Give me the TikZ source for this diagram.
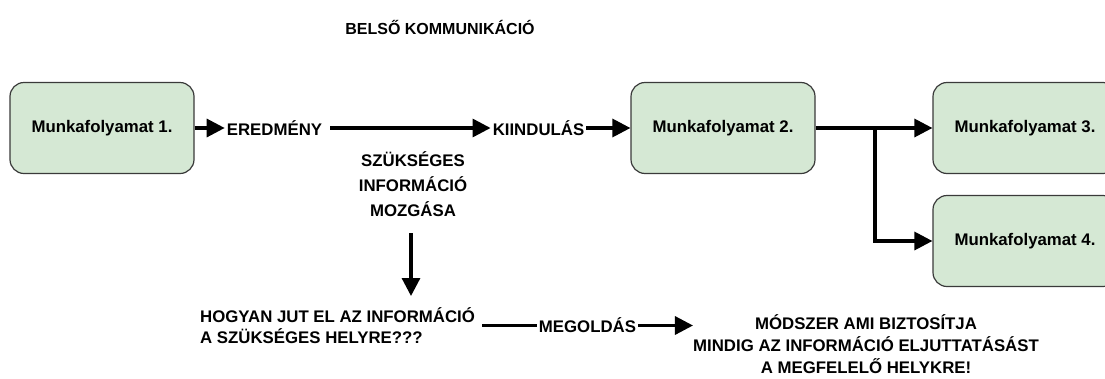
\documentclass[tikz,border=0pt]{standalone}
\usepackage{fontspec}
\setmainfont{Liberation Sans}
\usetikzlibrary{arrows.meta}
\definecolor{boxfill}{HTML}{D5E8D4}
\definecolor{boxline}{HTML}{3A3A3A}
\tikzset{
  procbox/.style={draw=boxline, fill=boxfill, line width=1.2pt, rounded corners=14pt,
    minimum width=184pt, minimum height=91pt, inner sep=0pt,
    font=\fontsize{16.8}{20}\selectfont\bfseries},
  lbl/.style={inner sep=0pt, font=\fontsize{16.8}{20}\selectfont\bfseries},
  flow/.style={line width=3.2pt, -{Triangle[length=18pt,width=18pt]}},
  plain/.style={line width=3.2pt},
}
\begin{document}
\begin{tikzpicture}[x=1pt,y=-1pt]
\useasboundingbox (0,0) rectangle (1105,378);
\begin{scope}
\clip (0,0) rectangle (1105,378);

% title
\node[lbl, font=\fontsize{16}{20}\selectfont\bfseries] (title) at (440,27) {BELSŐ KOMMUNIKÁCIÓ};

% process boxes
\node[procbox] (p1) at (102,128) {Munkafolyamat 1.};
\node[procbox] (p2) at (723,128) {Munkafolyamat 2.};
\node[procbox] (p3) at (1025,128) {Munkafolyamat 3.};
\node[procbox] (p4) at (1025,241) {Munkafolyamat 4.};

% labels along the main flow
\node[lbl, inner xsep=2pt] (ered) at (274.5,128) {EREDMÉNY};
\node[lbl, inner xsep=2pt] (kiind) at (538.5,128) {KIINDULÁS};
\node[lbl, align=center, font=\fontsize{16.8}{25}\selectfont\bfseries] (szuk) at (413,184) {SZÜKSÉGES\\INFORMÁCIÓ\\ MOZGÁSA};

% question and answer
\node[lbl, align=left, anchor=west, font=\fontsize{16.8}{21}\selectfont\bfseries] (hogy) at (200,325.5) {HOGYAN JUT EL AZ INFORMÁCIÓ\\A SZÜKSÉGES HELYRE???};
\node[lbl, inner xsep=2pt] (megold) at (587.5,325.5) {MEGOLDÁS};
\node[lbl, align=center, font=\fontsize{16.8}{22}\selectfont\bfseries] (modsz) at (866,344) {MÓDSZER AMI BIZTOSÍTJA\\MINDIG AZ INFORMÁCIÓ ELJUTTATÁSÁST\\A MEGFELELŐ HELYKRE!};

% connectors
\draw[flow] (p1.east) -- (ered.west);
\draw[flow] ([xshift=6pt]ered.east) -- (kiind.west);
\draw[flow] (kiind.east) -- (p2.west);
\coordinate (split) at (875,128);
\draw[flow] (p2.east) -- (p3.west);
\draw[flow] (split) -- (split |- p4) -- (p4.west);

\coordinate (vtop) at (411,233);
\coordinate (vend) at (411,296);
\draw[flow] (vtop) -- (vend);

\draw[plain] ([xshift=7pt]hogy.east) -- (megold.west);
\draw[flow] (megold.east) -- (megold.east -| modsz.west);
\end{scope}
\end{tikzpicture}
\end{document}
